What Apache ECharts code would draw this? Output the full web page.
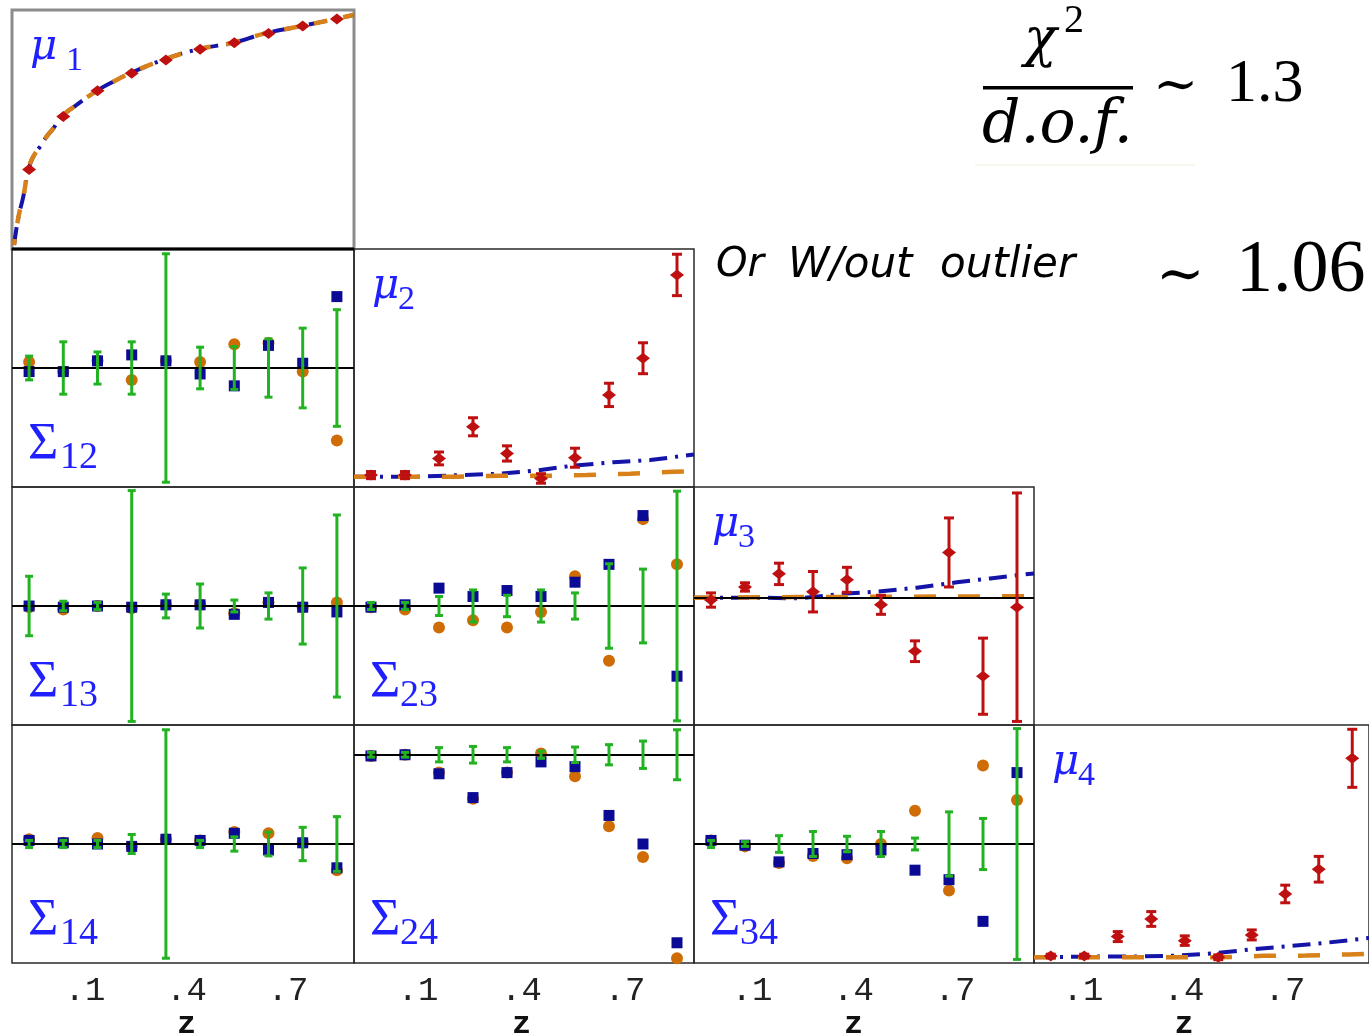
<!DOCTYPE html>
<html><head><meta charset="utf-8">
<script src="https://cdn.jsdelivr.net/npm/echarts@6/dist/echarts.min.js"></script>
<style>html,body{margin:0;padding:0;background:#fff}#c{width:1369px;height:1034px}</style>
</head><body><div id="c"></div>
<script>
// ---------- DATA ----------
const zBins = [0.05,0.15,0.25,0.35,0.45,0.55,0.65,0.75,0.85,0.95];
const tickValues = [0.1,0.4,0.7];
const tickLabels = ['.1','.4','.7'];

// mu panels: red measured points and errors
const mu1Vals = [0.333,0.554,0.662,0.735,0.791,0.836,0.863,0.902,0.933,0.962];
const mu2Vals = [0.05,0.05,0.12,0.253,0.141,0.036,0.123,0.387,0.541,0.891];
const mu2Errs = [0.015,0.015,0.027,0.038,0.032,0.02,0.04,0.049,0.065,0.087];
const mu3Vals = [-0.02,0.09,0.20,0.05,0.15,-0.06,-0.45,0.38,-0.66,-0.08];
const mu3Errs = [0.06,0.035,0.09,0.17,0.105,0.08,0.087,0.29,0.32,0.96];
const mu4Vals = [0.029,0.029,0.111,0.185,0.094,0.024,0.118,0.29,0.394,0.86];
const mu4Errs = [0.008,0.008,0.021,0.031,0.02,0.01,0.021,0.037,0.054,0.122];

// model curves (blue dash-dot, orange dashed)
const mu1ModelZ = [0.006,0.019,0.033,0.048,0.062,0.082,0.101,0.121,0.145,0.189,0.248,0.296,0.345,0.442,0.545,0.647,0.740,0.847,0.944,0.998];
const mu1ModelVals = [0.017,0.135,0.219,0.333,0.386,0.428,0.470,0.505,0.554,0.603,0.662,0.700,0.735,0.791,0.836,0.863,0.902,0.933,0.962,0.979];
const mu2BlueZ = [0,0.184,0.312,0.429,0.537,0.645,0.763,0.871,1.0];
const mu2BlueVals = [0.043,0.043,0.050,0.056,0.069,0.090,0.104,0.113,0.137];
const mu2OrangeZ = [0,0.15,0.302,0.429,0.557,0.684,0.812,0.939,1.0];
const mu2OrangeVals = [0.043,0.043,0.043,0.047,0.047,0.05,0.056,0.064,0.066];
const mu3BlueZ = [0,0.184,0.312,0.429,0.537,0.655,0.773,0.871,1.0];
const mu3BlueVals = [0,0,-0.006,0.031,0.05,0.084,0.129,0.162,0.204];
const mu3OrangeZ = [0,0.3,0.6,1.0];
const mu3OrangeVals = [0.0,0.005,0.008,0.012];
const mu4BlueZ = [0,0.184,0.302,0.429,0.537,0.655,0.763,0.871,1.0];
const mu4BlueVals = [0.024,0.027,0.027,0.031,0.041,0.058,0.071,0.085,0.105];
const mu4OrangeZ = [0,0.282,0.429,0.557,0.684,0.812,0.939,1.0];
const mu4OrangeVals = [0.024,0.024,0.024,0.024,0.03,0.031,0.036,0.038];

// Sigma panels: orange circles, blue squares, green error half-widths (around 0)
const s12Orange = [0.05,-0.03,0.06,-0.10,0.06,0.05,0.20,0.21,-0.03,-0.61];
const s12Blue   = [-0.03,-0.03,0.06,0.11,0.06,-0.05,-0.15,0.19,0.04,0.60];
const s12Green  = [0.10,0.22,0.135,0.22,0.96,0.175,0.18,0.245,0.335,0.49];
const s13Orange = [-0.01,-0.03,0,-0.02,0.01,0.01,-0.06,0.03,-0.01,0.03];
const s13Blue   = [0,-0.01,0,-0.01,0.01,0.01,-0.07,0.03,-0.01,-0.05];
const s13Green  = [0.25,0.04,0.03,0.97,0.10,0.185,0.05,0.11,0.32,0.765];
const s14Orange = [0.04,0.01,0.05,-0.02,0.04,0.03,0.10,0.09,0.01,-0.22];
const s14Blue   = [0.03,0.01,0,-0.02,0.04,0.03,0.09,-0.05,0.01,-0.20];
const s14Green  = [0.03,0.03,0.03,0.08,0.96,0.03,0.06,0.10,0.14,0.23];
const s23Orange = [-0.01,-0.03,-0.18,-0.12,-0.18,-0.05,0.25,-0.46,0.73,0.35];
const s23Blue   = [-0.01,0.01,0.15,0.08,0.13,0.08,0.20,0.35,0.76,-0.59];
const s23Green  = [0.03,0.03,0.08,0.135,0.09,0.135,0.11,0.355,0.31,0.965];
const s24Orange = [-0.01,0,-0.15,-0.37,-0.15,0.01,-0.18,-0.60,-0.86,-1.71];
const s24Blue   = [-0.01,0,-0.16,-0.36,-0.15,-0.06,-0.10,-0.51,-0.75,-1.58];
const s24Green  = [0.02,0.02,0.06,0.07,0.06,0.03,0.065,0.085,0.115,0.21];
const s34Orange = [0.03,-0.02,-0.16,-0.10,-0.12,0,0.28,-0.39,0.66,0.37];
const s34Blue   = [0.03,-0.01,-0.15,-0.08,-0.09,-0.05,-0.22,-0.30,-0.65,0.60];
const s34Green  = [0.03,0.02,0.07,0.105,0.065,0.105,0.05,0.27,0.215,0.97];

// ---------- LAYOUT / STYLE ----------
const colL = [12,354,694,1034], colW = [342,340,340,340];
const rowT = [10,249,487,725], rowH = [239,238,238,238];
const C = {blue:'#0a0a94', orange:'#d06c06', green:'#22b222', red:'#be1010',
           lineBlue:'#1414a8', lineOrange:'#d8801a', label:'#1f1fff'};
const SERIF = 'Liberation Serif', ISERIF = 'DejaVu Serif';

const panels = [
  {c:0,r:0,kind:'mu',sub:'1',ymin:0,ymax:1,vals:mu1Vals,errs:null,bz:mu1ModelZ,bv:mu1ModelVals,oz:mu1ModelZ,ov:mu1ModelVals,smooth:true},
  {c:0,r:1,kind:'S',sub:'12',ymin:-1,ymax:1,o:s12Orange,b:s12Blue,g:s12Green},
  {c:1,r:1,kind:'mu',sub:'2',ymin:0,ymax:1,vals:mu2Vals,errs:mu2Errs,bz:mu2BlueZ,bv:mu2BlueVals,oz:mu2OrangeZ,ov:mu2OrangeVals},
  {c:0,r:2,kind:'S',sub:'13',ymin:-1,ymax:1,o:s13Orange,b:s13Blue,g:s13Green},
  {c:1,r:2,kind:'S',sub:'23',ymin:-1,ymax:1,o:s23Orange,b:s23Blue,g:s23Green},
  {c:2,r:2,kind:'mu',sub:'3',ymin:-1.07,ymax:0.93,vals:mu3Vals,errs:mu3Errs,bz:mu3BlueZ,bv:mu3BlueVals,oz:mu3OrangeZ,ov:mu3OrangeVals,zero:true},
  {c:0,r:3,kind:'S',sub:'14',ymin:-1,ymax:1,o:s14Orange,b:s14Blue,g:s14Green},
  {c:1,r:3,kind:'S',sub:'24',ymin:-1.75,ymax:0.25,o:s24Orange,b:s24Blue,g:s24Green},
  {c:2,r:3,kind:'S',sub:'34',ymin:-1,ymax:1,o:s34Orange,b:s34Blue,g:s34Green},
  {c:3,r:3,kind:'mu',sub:'4',ymin:0,ymax:1,vals:mu4Vals,errs:mu4Errs,bz:mu4BlueZ,bv:mu4BlueVals,oz:mu4OrangeZ,ov:mu4OrangeVals}
];
// tick-label rows (centre of .1 to centre of .7 for each column)
const tickRowL = [85,418,752,1083], tickRowW = [203,207,203,202];

const grid=[], xAxis=[], yAxis=[], series=[], graphic=[];
const zeroLine = {silent:true, symbol:'none', label:{show:false},
  lineStyle:{color:'#000',width:2,type:'solid'}, data:[{yAxis:0}]};

function txt(x, y, text, size, opts){
  opts = opts || {};
  return {type:'text', x, y, silent:true, z:50,
    style:{text, fontSize:size, fontFamily:opts.family||SERIF, fontStyle:opts.italic?'italic':'normal',
      fontWeight:opts.bold?'bold':'normal', fill:opts.color||'#000', verticalAlign:'middle', align:'left'}};
}

function errBars(gi, vals, errs, color, capW, lw){
  return {type:'custom', xAxisIndex:gi, yAxisIndex:gi, silent:true, z:5,
    data: zBins.map((z,i)=>[z, vals[i]-errs[i], vals[i]+errs[i]]),
    renderItem(params, api){
      const lo = api.coord([api.value(0), api.value(1)]);
      const hi = api.coord([api.value(0), api.value(2)]);
      const h = capW/2, st = {stroke:color, lineWidth:lw};
      return {type:'group', children:[
        {type:'line', shape:{x1:lo[0],y1:lo[1],x2:hi[0],y2:hi[1]}, style:st},
        {type:'line', shape:{x1:lo[0]-h,y1:lo[1],x2:lo[0]+h,y2:lo[1]}, style:st},
        {type:'line', shape:{x1:hi[0]-h,y1:hi[1],x2:hi[0]+h,y2:hi[1]}, style:st}
      ]};
    }};
}

panels.forEach((p,gi)=>{
  const isMu1 = (gi===0);
  grid.push({left:colL[p.c], top:rowT[p.r], width:colW[p.c], height:rowH[p.r],
    show:true, backgroundColor:'transparent',
    borderColor: isMu1 ? '#8c8c8c' : '#2a2a2a', borderWidth: isMu1 ? 3 : 1.5});
  xAxis.push({type:'value', gridIndex:gi, min:0, max:1, show:false});
  yAxis.push({type:'value', gridIndex:gi, min:p.ymin, max:p.ymax, show:false});
  if (p.kind==='mu'){
    series.push({type:'line', xAxisIndex:gi, yAxisIndex:gi, symbol:'none', smooth:!!p.smooth, z:2,
      data:p.bz.map((z,i)=>[z,p.bv[i]]),
      lineStyle:{color:C.lineBlue, width:4, type:[18,8,3,8], cap:'butt'},
      markLine: p.zero ? zeroLine : undefined});
    series.push({type:'line', xAxisIndex:gi, yAxisIndex:gi, symbol:'none', smooth:!!p.smooth, z:3,
      data:p.oz.map((z,i)=>[z,p.ov[i]]),
      lineStyle:{color:C.lineOrange, width:4.5, type:isMu1?[14,16]:[22,22], dashOffset:isMu1?8:0, cap:'butt'}});
    if (p.errs) series.push(errBars(gi, p.vals, p.errs, C.red, 10, 3));
    series.push({type:'scatter', xAxisIndex:gi, yAxisIndex:gi, symbol:'diamond', symbolSize:[14,11], z:6,
      itemStyle:{color:C.red, opacity:1}, data:zBins.map((z,i)=>[z,p.vals[i]])});
  } else {
    series.push({type:'scatter', xAxisIndex:gi, yAxisIndex:gi, symbol:'circle', symbolSize:12, z:3,
      itemStyle:{color:C.orange, opacity:1}, data:zBins.map((z,i)=>[z,p.o[i]]), markLine:zeroLine});
    series.push({type:'scatter', xAxisIndex:gi, yAxisIndex:gi, symbol:'rect', symbolSize:11, z:4,
      itemStyle:{color:C.blue, opacity:1}, data:zBins.map((z,i)=>[z,p.b[i]])});
    series.push(errBars(gi, zBins.map(()=>0), p.g, C.green, 8, 3));
  }
  // panel labels
  const L = colL[p.c], T = rowT[p.r];
  if (p.kind==='mu'){
    graphic.push(txt(L+18, T+38, 'μ', 42, {italic:true, family:ISERIF, color:C.label}));
    graphic.push(txt(L+(isMu1?54:44), T+51, p.sub, 34, {color:C.label}));
  } else {
    graphic.push(txt(L+16, T+196, 'Σ', 52, {color:C.label}));
    graphic.push(txt(L+(p.c===0?48:46), T+209, p.sub, 38, {color:C.label}));
  }
});

// tick-label axes under the bottom row
for (let c=0;c<4;c++){
  const gi = grid.length;
  grid.push({left:tickRowL[c], top:962, width:tickRowW[c], height:1, show:false});
  xAxis.push({type:'value', gridIndex:gi, min:tickValues[0], max:tickValues[2], interval:0.3,
    axisLine:{show:false}, axisTick:{show:false}, splitLine:{show:false},
    axisLabel:{margin:12, fontFamily:'Liberation Mono', fontSize:34, color:'#222',
      formatter:v=>tickLabels[Math.round((v-tickValues[0])/0.3)] || ''},
    name:'z', nameLocation:'middle', nameGap:40,
    nameTextStyle:{fontFamily:'Liberation Mono', fontWeight:'bold', fontSize:32, color:'#111'}});
  yAxis.push({type:'value', gridIndex:gi, show:false});
}

// top-right annotations
graphic.push(
  txt(1024, 42, 'χ', 54, {italic:true, family:ISERIF}),
  txt(1064, 21, '2', 40),
  {type:'rect', shape:{x:983, y:86, width:150, height:3.5}, style:{fill:'#000'}},
  txt(982, 126, 'd.o.f.', 60, {italic:true, family:ISERIF}),
  txt(1153, 88, '∼', 54, {family:'DejaVu Serif'}),
  txt(1226, 85, '1.3', 62),
  {type:'line', shape:{x1:975,y1:165,x2:1195,y2:165}, style:{stroke:'#eeeedd', lineWidth:1}},
  txt(716, 266, 'Or', 40, {family:'DejaVu Sans', italic:true}),
  txt(788, 266, 'W/out', 42, {family:'DejaVu Sans', italic:true}),
  txt(940, 266, 'outlier', 42, {family:'DejaVu Sans', italic:true}),
  txt(1156, 278, '∼', 58, {family:'DejaVu Serif'}),
  txt(1236, 272, '1.06', 74),
  {type:'line', shape:{x1:12,y1:249,x2:354,y2:249}, style:{stroke:'#000', lineWidth:3}, z:40}
);

const chart = echarts.init(document.getElementById('c'), null, {renderer:'canvas'});
chart.setOption({animation:false, backgroundColor:'#fff', grid, xAxis, yAxis, series, graphic});
</script>
</body></html>
